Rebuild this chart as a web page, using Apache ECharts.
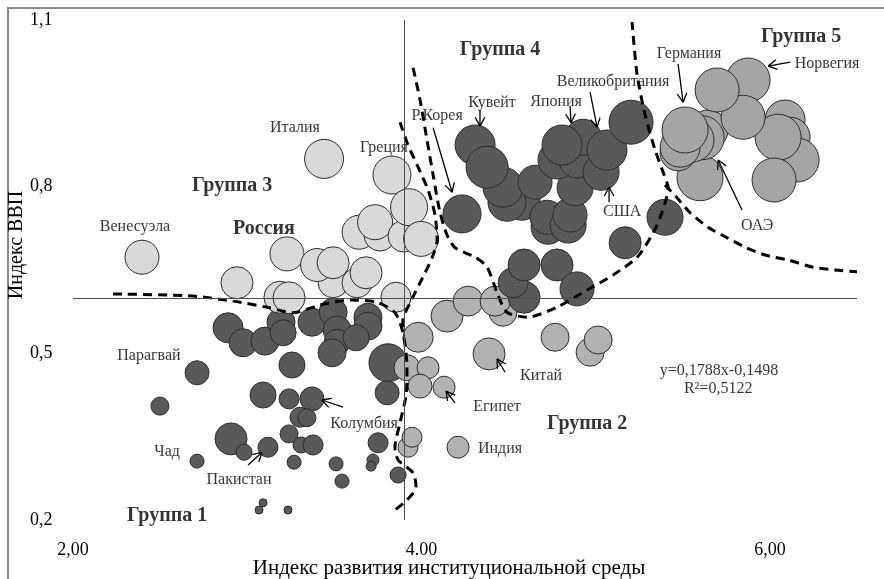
<!DOCTYPE html>
<html><head><meta charset="utf-8">
<script src="https://cdn.jsdelivr.net/npm/echarts@6/dist/echarts.min.js"></script>
<style>html,body{margin:0;padding:0;background:#fff}#c{width:884px;height:579px}</style>
</head><body><div id="c"></div>
<script>
// ---- axis ticks ----
const xTickValues = [2, 4, 6];
const xTickLabels = ['2,00', '4.00', '6,00'];
const yTickValues = [0.2, 0.5, 0.8, 1.1];
const yTickLabels = ['0,2', '0,5', '0,8', '1,1'];
const meanX = 3.9, meanY = 0.6;

// ---- bubbles: [institutional index, GDP index, weight] ----
const group1 = [
 [2.890,0.546,15],[2.976,0.519,14],[3.102,0.522,14],[3.194,0.556,14],[3.206,0.537,13],[3.372,0.556,14],
 [3.493,0.574,14],[3.516,0.542,14],[3.516,0.520,13],[3.487,0.501,14],[3.693,0.565,14],[3.693,0.549,14],
 [3.625,0.528,13],[3.808,0.483,19],[3.257,0.479,13],[2.712,0.465,12],[3.091,0.425,13],[3.240,0.418,10],
 [3.372,0.418,12],[3.303,0.385,10],[3.343,0.384,9],[2.907,0.346,16],[2.982,0.322,8],[3.119,0.331,10],
 [3.240,0.355,9],[3.309,0.335,8],[3.378,0.335,10],[2.712,0.306,7],[3.269,0.304,7],[3.510,0.301,7],
 [3.544,0.270,7],[3.722,0.308,6],[3.711,0.297,5],[3.751,0.339,10],[3.803,0.429,12],[3.866,0.281,8],
 [3.091,0.231,4],[3.068,0.218,4],[3.234,0.218,4],[2.499,0.405,9]
];
const group3 = [
 [3.441,0.850,19.5],[3.831,0.821,19],[2.396,0.673,17],[3.228,0.679,17],[2.941,0.627,16],
 [3.642,0.718,17],[3.762,0.713,16],[3.734,0.736,17.5],[3.900,0.711,16],[3.929,0.763,18.5],[3.998,0.706,17.5],
 [3.493,0.627,15],[3.401,0.659,16.5],[3.493,0.663,16],[3.630,0.627,15],[3.682,0.645,16],
 [3.188,0.601,16],[3.240,0.600,16],[3.854,0.601,15]
];
const group2 = [
 [4.147,0.567,16],[4.268,0.594,15],[4.468,0.574,14],[4.423,0.594,15],[3.981,0.529,15],[4.767,0.529,14],
 [4.968,0.502,14],[5.014,0.524,14],[4.388,0.499,16],[3.917,0.474,13],[4.038,0.474,11],[3.992,0.441,12],
 [4.130,0.439,11],[3.923,0.331,10],[3.946,0.349,10],[4.210,0.331,11]
];
const group4 = [
 [4.589,0.601,16],[4.526,0.627,15],[4.589,0.659,16],[4.778,0.659,16],[4.893,0.616,17],[5.169,0.699,16],[5.398,0.745,18],
 [4.578,0.772,18],[4.491,0.772,19],[4.468,0.799,20],[4.308,0.875,20],[4.377,0.835,21],
 [4.727,0.727,17],[4.721,0.745,17],[4.842,0.731,18],[4.853,0.749,17],
 [4.652,0.808,17],[4.882,0.798,18],[4.778,0.848,19],[4.893,0.848,18],[4.928,0.889,18],[5.031,0.826,18],
 [4.807,0.875,20],[5.065,0.866,20],[5.203,0.916,22],[4.233,0.751,19]
];
const group5 = [
 [6.087,0.920,20],[6.116,0.889,20],[6.156,0.848,22],[6.047,0.889,23],[6.024,0.812,22],
 [5.599,0.816,23],[5.473,0.861,18],[5.645,0.902,20],[5.611,0.888,22],[5.553,0.884,22],[5.485,0.871,20],[5.513,0.902,23],
 [5.875,0.992,22],[5.846,0.925,22],[5.697,0.974,22]
];

// ---- group boundaries (dashed) ----
const boundaryA = [[2.230,0.607],[2.689,0.603],[2.918,0.594],[3.114,0.583],[3.263,0.573],[3.418,0.587],[3.590,0.596],
 [3.745,0.592],[3.848,0.573],[3.894,0.537],[3.917,0.475],[3.912,0.425],[3.877,0.375],[3.848,0.331],[3.866,0.308],
 [3.952,0.285],[3.969,0.259],[3.917,0.236],[3.848,0.218]];
const boundaryB = [[3.877,0.916],[3.923,0.875],[3.981,0.835],[4.038,0.794],[4.078,0.749],[4.090,0.704],[4.061,0.672],
 [3.992,0.627],[3.935,0.591],[3.894,0.560],[3.894,0.537]];
const boundaryC = [[3.952,1.014],[3.992,0.956],[4.032,0.884],[4.067,0.821],[4.107,0.753],[4.147,0.713],[4.193,0.690],
 [4.308,0.673],[4.377,0.655],[4.434,0.609],[4.491,0.574],[4.606,0.565],[4.778,0.583],[4.951,0.614],[5.100,0.641],
 [5.238,0.673],[5.330,0.717],[5.381,0.754],[5.416,0.798],[5.393,0.821],[5.341,0.866],[5.284,0.929],[5.238,1.001],[5.209,1.096]];
const boundaryD = [[5.398,0.803],[5.467,0.780],[5.542,0.753],[5.645,0.727],[5.754,0.708],[5.858,0.691],[5.972,0.677],
 [6.105,0.668],[6.248,0.655],[6.374,0.650],[6.500,0.647]];

// ---- arrows [fromX, fromY, toX, toY] ----
const arrows = [
 [3.550,0.403,3.429,0.416],[3.005,0.299,3.085,0.322],[4.193,0.411,4.141,0.432],[4.480,0.466,4.434,0.490],
 [4.067,0.906,4.176,0.790],[4.336,0.938,4.336,0.909],[4.853,0.945,4.859,0.915],[4.968,0.970,5.008,0.907],
 [5.077,0.772,5.077,0.799],[5.473,1.021,5.502,0.952],[6.116,1.024,5.990,1.017],[5.840,0.758,5.703,0.848]
];

// ---- text annotations ----
const countryLabels = [
 ['Италия',3.274,0.906],['Греция',3.785,0.870],['Венесуэла',2.356,0.727],['Парагвай',2.436,0.495],
 ['Чад',2.540,0.322],['Пакистан',2.953,0.272],['Колумбия',3.671,0.373],['Китай',4.687,0.459],
 ['Египет',4.434,0.403],['Индия',4.451,0.328],['Р.Корея',4.090,0.927],['Кувейт',4.405,0.951],
 ['Япония',4.773,0.952],['Великобритания',5.100,0.988],['США',5.152,0.754],['Германия',5.536,1.039],
 ['Норвегия',6.328,1.021],['ОАЭ',5.927,0.729]
];
const groupLabels = [
 ['Группа 1',2.540,0.207],['Группа 2',4.951,0.373],['Группа 3',2.913,0.801],['Группа 4',4.451,1.046],
 ['Группа 5',6.179,1.069],['Россия',3.096,0.724]
];
const trendLabels = [['y=0,1788x-0,1498',5.708,0.468],['R²=0,5122',5.703,0.436]];

const SERIF = "'Liberation Serif','Times New Roman',serif";
const pick = (vals, labels) => v => { const i = vals.findIndex(t => Math.abs(t - v) < 1e-6); return i < 0 ? '' : labels[i]; };

const bubble = (name, data, color) => ({
  type: 'scatter', name, data, z: 2, silent: true,
  symbolSize: d => d[2] * 2,
  itemStyle: { color, borderColor: '#2b2b2b', borderWidth: 1, opacity: 1 }
});
const dash = data => ({
  type: 'line', data, z: 3, silent: true, showSymbol: false, symbol: 'none', smooth: 0.25,
  lineStyle: { color: '#000', width: 3, type: [9, 6] }
});
const texts = (arr, font) => ({
  type: 'scatter', z: 6, silent: true, symbolSize: 1,
  itemStyle: { color: 'rgba(0,0,0,0)' },
  data: arr.map(d => ({ name: d[0], value: [d[1], d[2]] })),
  label: Object.assign({ show: true, position: 'inside', formatter: '{b}', color: '#000', fontFamily: SERIF }, font)
});

const chart = echarts.init(document.getElementById('c'), null, { renderer: 'canvas' });
chart.setOption({
  animation: false,
  backgroundColor: '#fff',
  grid: { left: 73, right: 27, top: 20, bottom: 59 },
  xAxis: {
    type: 'value', min: 2, max: 6.5, interval: 2,
    axisLine: { show: false }, axisTick: { show: false }, splitLine: { show: false },
    axisLabel: { formatter: pick(xTickValues, xTickLabels), margin: 21, fontSize: 18, fontFamily: SERIF, color: '#000' }
  },
  yAxis: {
    type: 'value', min: 0.2, max: 1.1, interval: 0.3,
    axisLine: { show: false }, axisTick: { show: false }, splitLine: { show: false },
    axisLabel: { formatter: pick(yTickValues, yTickLabels), margin: 43, align: 'left', fontSize: 18, fontFamily: SERIF, color: '#000' }
  },
  graphic: [
    { type: 'rect', silent: true, z: -10, shape: { x: 8, y: 8, width: 920, height: 620 }, style: { fill: 'none', stroke: '#8a8a8a', lineWidth: 2 } },
    { type: 'text', silent: true, x: 17, y: 245, rotation: Math.PI / 2,
      style: { text: 'Индекс ВВП', font: '20px ' + SERIF, fill: '#000', textAlign: 'center', textVerticalAlign: 'middle', align: 'center', verticalAlign: 'middle' } },
    { type: 'text', silent: true, x: 449, y: 568,
      style: { text: 'Индекс развития институциональной среды', font: '21px ' + SERIF, fill: '#000', textAlign: 'center', textVerticalAlign: 'middle', align: 'center', verticalAlign: 'middle' } }
  ],
  series: [
    { type: 'line', z: 1, silent: true, data: [[meanX, meanY]], showSymbol: false, symbol: 'none', lineStyle: { width: 0 },
      markLine: { silent: true, symbol: 'none', label: { show: false }, lineStyle: { color: '#4d4d4d', width: 1, type: 'solid' },
        data: [{ xAxis: meanX }, { yAxis: meanY }] } },
    bubble('Группа 1', group1, '#595959'),
    bubble('Группа 3', group3, '#d9d9d9'),
    bubble('Группа 2', group2, '#b2b2b2'),
    bubble('Группа 4', group4, '#595959'),
    bubble('Группа 5', group5, '#a5a5a5'),
    dash(boundaryA), dash(boundaryB), dash(boundaryC), dash(boundaryD),
    { type: 'custom', z: 4, silent: true, data: arrows, encode: { x: [0, 2], y: [1, 3] },
      renderItem: (p, api) => {
        const a = api.coord([api.value(0), api.value(1)]);
        const b = api.coord([api.value(2), api.value(3)]);
        const ang = Math.atan2(b[1] - a[1], b[0] - a[0]);
        const L = 10, h = 0.5;
        const s = { stroke: '#000', lineWidth: 1.3, fill: null };
        return { type: 'group', children: [
          { type: 'line', shape: { x1: a[0], y1: a[1], x2: b[0], y2: b[1] }, style: s },
          { type: 'line', shape: { x1: b[0], y1: b[1], x2: b[0] - L * Math.cos(ang - h), y2: b[1] - L * Math.sin(ang - h) }, style: s },
          { type: 'line', shape: { x1: b[0], y1: b[1], x2: b[0] - L * Math.cos(ang + h), y2: b[1] - L * Math.sin(ang + h) }, style: s }
        ] };
      } },
    texts(countryLabels, { fontSize: 16 }),
    texts(groupLabels, { fontSize: 20, fontWeight: 'bold' }),
    texts(trendLabels, { fontSize: 16 })
  ]
});
</script></body></html>
